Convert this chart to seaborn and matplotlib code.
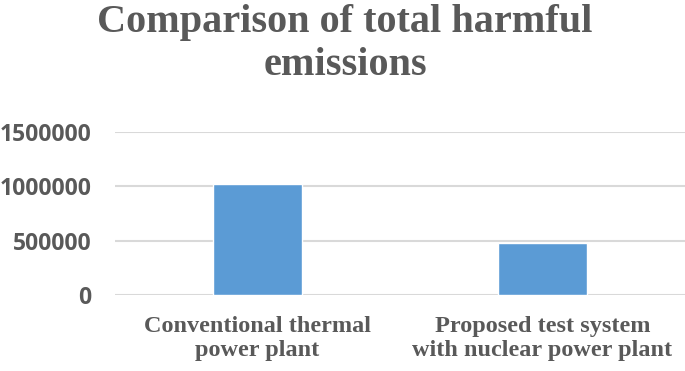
"""
Bar chart comparing total harmful emissions of two power systems.
"""

import matplotlib.pyplot as plt
import seaborn as sns

categories = ["Conventional thermal\npower plant", "Proposed test system\nwith nuclear power plant"]
emissions = [1027000, 480000]
yticks = [0, 500000, 1000000, 1500000]

sns.set_theme(style="whitegrid")

text_gray = "#595959"

fig = plt.figure(figsize=(6.85, 3.71), dpi=100)
ax = fig.add_axes([0.168, 0.2057, 0.832, 0.4375])

sns.barplot(x=categories, y=emissions, color="#5B9BD5", saturation=1, width=0.31, ax=ax)

ax.set_xlim(-0.5, 1.5)
ax.set_ylim(0, 1500000)
ax.set_yticks(yticks)
ax.set_yticklabels([str(v) for v in yticks], family="Open Sans", fontweight="bold",
                   fontsize=16.5, color=text_gray)
ax.set_xticks(range(len(categories)))
ax.set_xticklabels(categories, family="Liberation Serif", fontweight="bold",
                   fontsize=17.5, color=text_gray, linespacing=1.2)
ax.tick_params(axis="y", length=0, pad=17)
ax.tick_params(axis="x", length=0, pad=15)
ax.grid(axis="y", color="#D9D9D9", linewidth=1.5)
ax.grid(axis="x", visible=False)
ax.set_axisbelow(True)
for s in ax.spines.values():
    s.set_visible(False)
ax.set_facecolor("white")

fig.text(0.504, 0.988, "Comparison of total harmful\nemissions", ha="center", va="top",
         family="Liberation Serif", fontweight="bold", fontsize=29, color=text_gray,
         linespacing=1.2)

plt.savefig("out.png", dpi=100, facecolor="white")
